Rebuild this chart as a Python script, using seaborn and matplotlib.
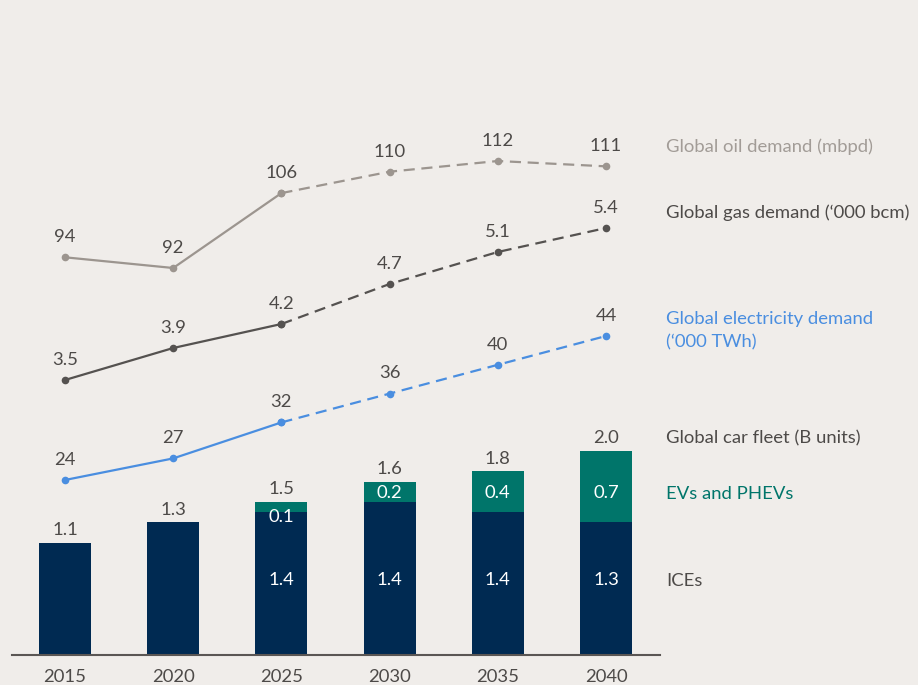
import matplotlib
matplotlib.use("Agg")
import matplotlib.pyplot as plt
import seaborn as sns
import pandas as pd

# ---- data ----
years = ["2015", "2020", "2025", "2030", "2035", "2040"]
ice = [1.1, 1.3, 1.4, 1.5, 1.4, 1.3]
evs = [0.0, 0.0, 0.1, 0.2, 0.4, 0.7]
total_labels = ["1.1", "1.3", "1.5", "1.6", "1.8", "2.0"]
ice_labels = ["", "", "1.4", "1.4", "1.4", "1.3"]
ev_labels = ["", "", "0.1", "0.2", "0.4", "0.7"]
oil = [94, 92, 106, 110, 112, 111]
gas = [3.5, 3.9, 4.2, 4.7, 5.1, 5.4]
elec = [24, 27, 32, 36, 40, 44]
gas_labels = ["3.5", "3.9", "4.2", "4.7", "5.1", "5.4"]

BG = "#f0edea"
NAVY = "#002a52"
TEAL = "#00756a"
OIL_C = "#9c958f"
GAS_C = "#555250"
ELEC_C = "#4a8ee0"
TXT = "#4d4a48"
FS = 13.3

sns.set_theme(style="white")
plt.rcParams["font.family"] = ["Lato", "DejaVu Sans"]

W, H = 918, 685
fig = plt.figure(figsize=(W / 100, H / 100), dpi=100, facecolor=BG)

# axes in pixel coordinates
x_left, x_right = 12, 660
y_bottom, y_top = 655, 100
ax = fig.add_axes([x_left / W, (H - y_bottom) / H, (x_right - x_left) / W, (y_bottom - y_top) / H])
ax.set_facecolor("none")

px_per_cat = 108.2
xlim = (-(65 - x_left) / px_per_cat, -(65 - x_left) / px_per_cat + (x_right - x_left) / px_per_cat)

df = pd.DataFrame({"year": years, "ice": ice, "ev": evs})
df["total"] = df["ice"] + df["ev"]

sns.barplot(data=df, x="year", y="total", color=TEAL, width=0.48, saturation=1,
            linewidth=0, edgecolor="none", ax=ax)
sns.barplot(data=df, x="year", y="ice", color=NAVY, width=0.48, saturation=1,
            linewidth=0, edgecolor="none", ax=ax)

bar_ppu = 102.0
ax.set_ylim(0, (y_bottom - y_top) / bar_ppu)
ax.set_xlim(*xlim)

for i, (t, lab) in enumerate(zip(df["total"], total_labels)):
    ax.annotate(lab, (i, t), xytext=(0, 3.5), textcoords="offset points",
                ha="center", va="bottom", fontsize=FS, color=TXT)
for i, lab in enumerate(ice_labels):
    if lab:
        ax.text(i, (y_bottom - 580) / bar_ppu, lab, ha="center", va="center", fontsize=FS, color="white")
for i, lab in enumerate(ev_labels):
    if lab:
        ypx = 517 if i == 2 else 493
        ax.text(i, (y_bottom - ypx) / bar_ppu, lab, ha="center", va="center", fontsize=FS, color="white")

ax.set_xlabel("")
ax.set_ylabel("")
ax.set_yticks([])
ax.tick_params(axis="x", length=0, labelsize=FS, labelcolor=TXT, pad=10)
for s in ["top", "right", "left"]:
    ax.spines[s].set_visible(False)
ax.spines["bottom"].set_color("#5a5654")
ax.spines["bottom"].set_linewidth(1.5)


def line_axis(a, b):
    """twin axis where value v maps to pixel y = a - b*v"""
    t = ax.twinx()
    t.set_ylim((a - y_bottom) / b, (a - y_top) / b)
    t.set_xlim(*xlim)
    t.axis("off")
    return t


def draw_series(t, vals, labels, color):
    xs = list(range(len(vals)))
    d1 = pd.DataFrame({"x": xs[:3], "v": vals[:3]})
    d2 = pd.DataFrame({"x": xs[2:], "v": vals[2:]})
    sns.lineplot(data=d1, x="x", y="v", color=color, lw=1.6, marker="o", markersize=5.5,
                 markeredgewidth=0, ax=t)
    sns.lineplot(data=d2, x="x", y="v", color=color, lw=1.6, marker="o", markersize=5.5,
                 markeredgewidth=0, ax=t, linestyle=(0, (5, 3)))
    for x, v, lab in zip(xs, vals, labels):
        t.annotate(lab, (x, v), xytext=(0, 14.5), textcoords="offset points",
                   ha="center", va="center", fontsize=FS, color=TXT)
    t.set_xlim(*xlim)
    t.axis("off")


t_oil = line_axis(760.2, 5.35)
draw_series(t_oil, oil, [str(v) for v in oil], OIL_C)
t_gas = line_axis(660.0, 80.0)
draw_series(t_gas, gas, gas_labels, GAS_C)
t_el = line_axis(652.8, 7.2)
draw_series(t_el, elec, [str(v) for v in elec], ELEC_C)

# right-hand labels
def rlabel(ypx, s, color):
    fig.text(666 / W, 1 - ypx / H, s, ha="left", va="center", fontsize=FS, color=color)

rlabel(147, "Global oil demand (mbpd)", "#a29c97")
rlabel(213, "Global gas demand (‘000 bcm)", TXT)
rlabel(319, "Global electricity demand", ELEC_C)
rlabel(342, "(‘000 TWh)", ELEC_C)
rlabel(438, "Global car fleet (B units)", TXT)
rlabel(494, "EVs and PHEVs", TEAL)
rlabel(581, "ICEs", TXT)

fig.savefig("out.png", dpi=100, facecolor=BG)
